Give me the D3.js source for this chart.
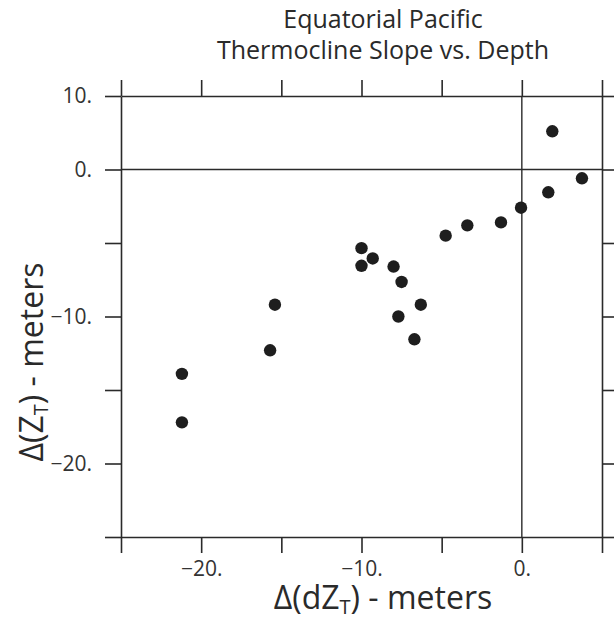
<!DOCTYPE html>
<html>
<head>
<meta charset="utf-8">
<script src="https://cdn.jsdelivr.net/npm/d3@7"></script>
<style>
  html, body { margin: 0; padding: 0; background: #fff; }
  svg { display: block; font-family: "Open Sans", "Noto Sans", sans-serif; }
</style>
</head>
<body>
<svg id="chart" width="614" height="619"></svg>
<script>
// ---- data ----
const dZ = [-21.2, -21.2, -15.7, -15.4, -10.0, -10.0, -9.3, -8.0, -7.5, -7.7, -6.3, -6.7, -4.75, -3.4, -1.3, -0.05, 1.65, 1.9, 3.75];
const Z  = [-13.9, -17.2, -12.3, -9.2, -5.35, -6.55, -6.05, -6.6, -7.65, -10.0, -9.2, -11.55, -4.5, -3.8, -3.6, -2.6, -1.55, 2.6, -0.6];
const xTickValues = [-25, -20, -15, -10, -5, 0, 5];
const xTickLabels = ["", "\u221220.", "", "\u221210.", "", "0.", ""];
const yTickValues = [5, 0, -5, -10, -15, -20, -25];
const yTickLabels = ["10.", "0.", "", "\u221210.", "", "\u221220.", ""];
const titleLines = ["Equatorial Pacific", "Thermocline Slope vs. Depth"];

// ---- layout ----
const L = 121, R = 602, T = 96, B = 537;
const svg = d3.select("#chart");
const x = d3.scaleLinear().domain([-25, 5]).range([L, R]);
const y = d3.scaleLinear().domain([-25, 5]).range([B, T]);
const ink = "#2a2a2a";

function styleAxis(g) {
  g.selectAll("path.domain").attr("stroke", ink).attr("stroke-width", 1.6);
  g.selectAll(".tick line").attr("stroke", ink).attr("stroke-width", 1.6);
  g.selectAll(".tick text").attr("fill", "#333").style("font-size", "21px")
    .style("font-family", "'Open Sans', sans-serif");
}

// bottom
svg.append("g").attr("transform", `translate(0,${B})`)
  .call(d3.axisBottom(x).tickValues(xTickValues).tickSize(16).tickSizeOuter(0).tickPadding(8)
    .tickFormat((d, i) => xTickLabels[i]))
  .call(styleAxis);
// top
svg.append("g").attr("transform", `translate(0,${T})`)
  .call(d3.axisTop(x).tickValues(xTickValues).tickSize(16).tickSizeOuter(0).tickFormat(""))
  .call(styleAxis);
// left
svg.append("g").attr("transform", `translate(${L},0)`)
  .call(d3.axisLeft(y).tickValues(yTickValues).tickSize(16).tickSizeOuter(0).tickPadding(13)
    .tickFormat((d, i) => yTickLabels[i]))
  .call(styleAxis);
// right
svg.append("g").attr("transform", `translate(${R},0)`)
  .call(d3.axisRight(y).tickValues(yTickValues).tickSize(16).tickSizeOuter(0).tickFormat(""))
  .call(styleAxis);

// zero lines
svg.append("line").attr("x1", x(0)).attr("x2", x(0)).attr("y1", T).attr("y2", B)
  .attr("stroke", ink).attr("stroke-width", 1.4);
svg.append("line").attr("x1", L).attr("x2", R).attr("y1", y(0)).attr("y2", y(0))
  .attr("stroke", ink).attr("stroke-width", 1.4);

// points
svg.append("g").selectAll("circle").data(dZ.map((d, i) => [d, Z[i]])).join("circle")
  .attr("cx", d => x(d[0])).attr("cy", d => y(d[1])).attr("r", 6.2).attr("fill", "#1e1e1e");

// title
svg.append("text").attr("x", 383).attr("text-anchor", "middle")
  .attr("fill", "#2a2a2a").style("font-size", "25px")
  .selectAll("tspan").data(titleLines).join("tspan")
  .attr("x", 383).attr("y", (d, i) => 28 + i * 31).text(d => d);

// x axis title
const xt = svg.append("text").attr("x", 383).attr("y", 609).attr("text-anchor", "middle")
  .attr("fill", "#2a2a2a").style("font-size", "32px");
xt.append("tspan").text("\u0394(dZ");
xt.append("tspan").attr("dy", 5).style("font-size", "20px").text("T");
xt.append("tspan").attr("dy", -5).text(") - meters");

// y axis title
const yt = svg.append("text").attr("transform", "translate(43,362) rotate(-90)")
  .attr("text-anchor", "middle").attr("fill", "#2a2a2a").style("font-size", "32px");
yt.append("tspan").text("\u0394(Z");
yt.append("tspan").attr("dy", 5).style("font-size", "20px").text("T");
yt.append("tspan").attr("dy", -5).text(") - meters");
</script>
</body>
</html>
